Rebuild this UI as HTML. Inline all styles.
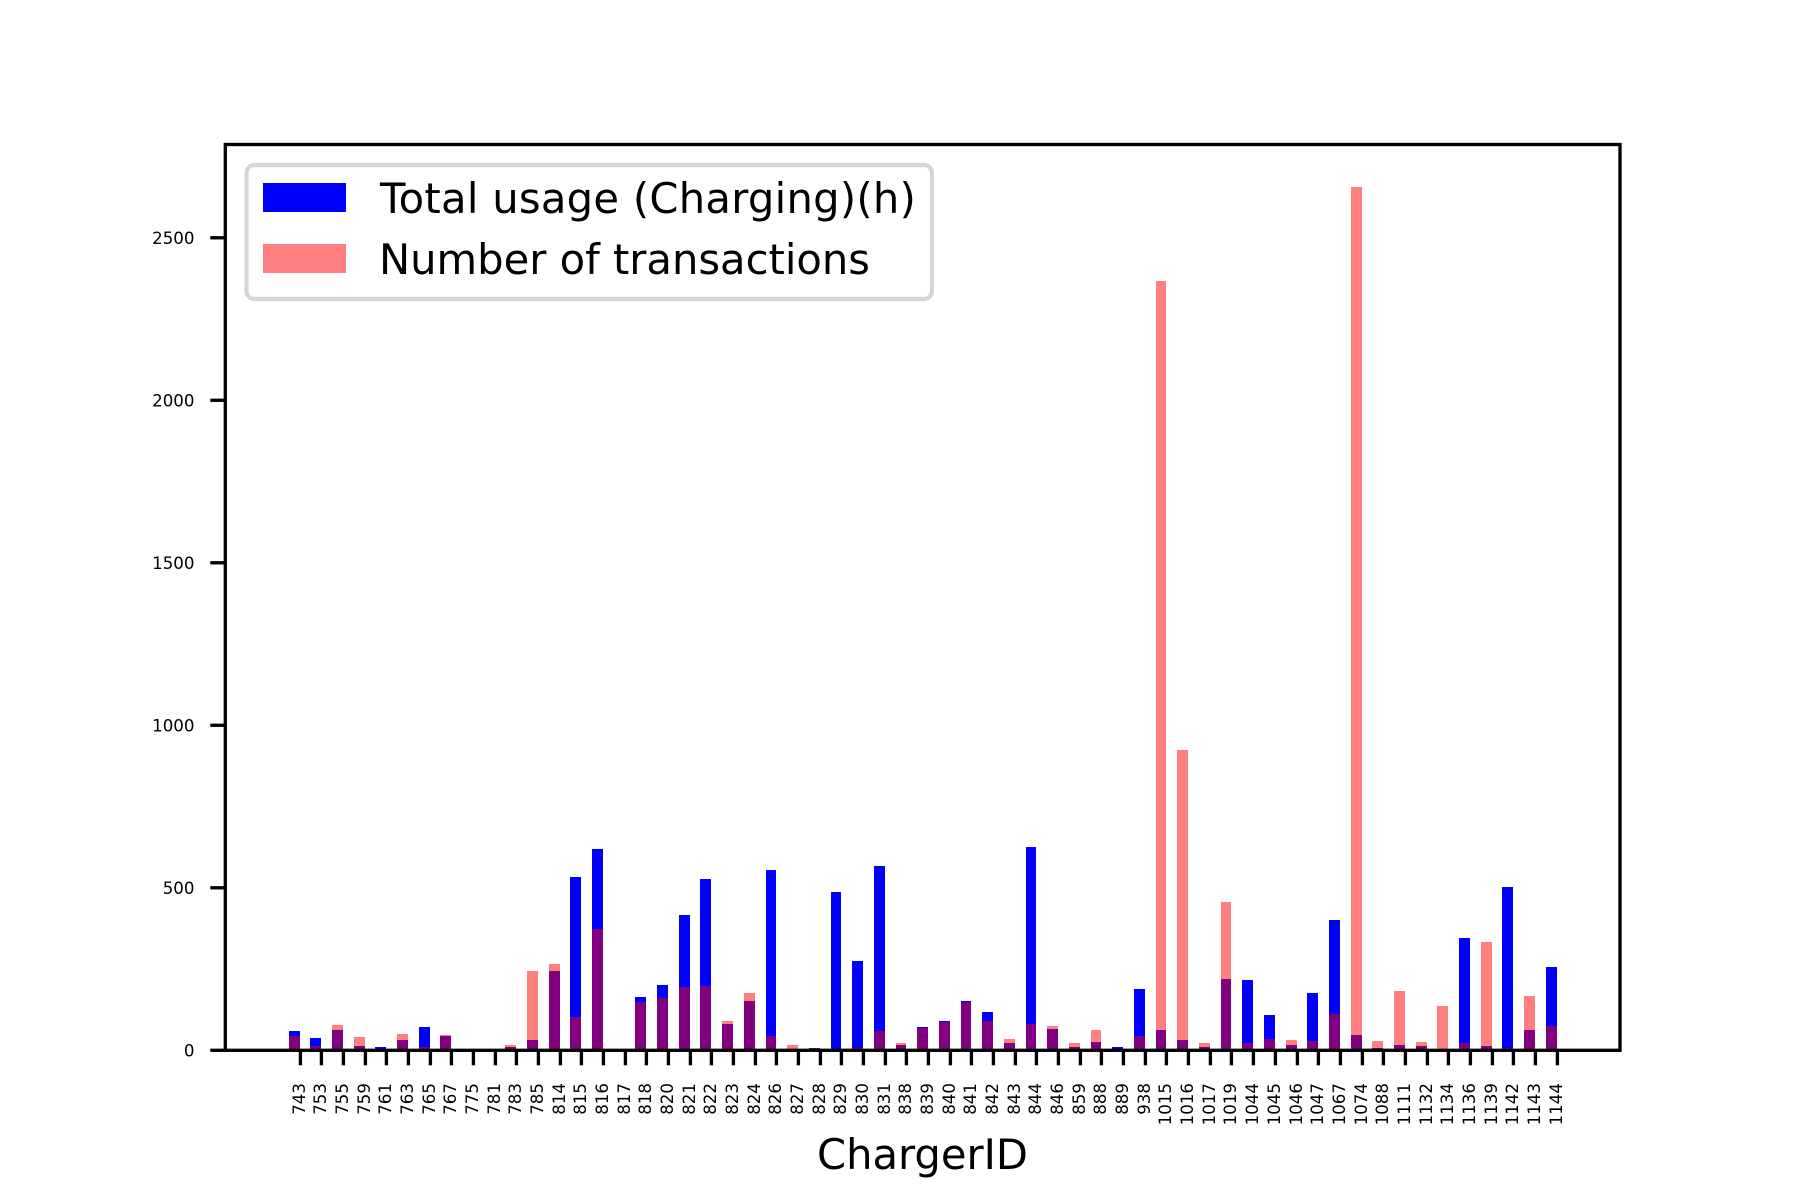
<!DOCTYPE html>
<html lang="en">
<head>
<meta charset="utf-8">
<title>Charger usage and transactions</title>
<style>
html,body{margin:0;padding:0;background:#fff;}
body{width:1800px;height:1200px;overflow:hidden;}
svg{display:block;font-family:"DejaVu Sans","Liberation Sans",sans-serif;}
</style>
</head>
<body>
<svg id="chart" xmlns="http://www.w3.org/2000/svg" width="1800" height="1200" viewBox="0 0 1800 1200"></svg>
<script>
const categories = [743,753,755,759,761,763,765,767,775,781,783,785,814,815,816,817,818,820,821,822,823,824,826,827,828,829,830,831,838,839,840,841,842,843,844,846,859,888,889,938,1015,1016,1017,1019,1044,1045,1046,1047,1067,1074,1088,1111,1132,1134,1136,1139,1142,1143,1144];
const usageHours = [58,37,62,12,9,31,71,43,0,0,9,31,243,533,619,0,163,200,416,527,80,151,554,1,6,487,274,567,15,71,89,151,117,22,625,65,9,25,9,188,62,31,9,219,216,108,15,176,400,46,6,15,12,1,345,12,502,62,256];
const transactions = [43,12,77,40,1,49,9,46,0,0,15,243,265,102,373,0,148,160,194,197,89,176,43,15,6,1,6,58,22,68,86,148,89,34,80,74,22,62,1,43,2368,924,22,456,22,34,31,28,111,2657,28,182,25,136,22,333,6,166,74];
const yTickValues = [0,500,1000,1500,2000,2500];
const seriesLabels = ["Total usage (Charging)(h)","Number of transactions"];
const xAxisTitle = "ChargerID";

const NS = "http://www.w3.org/2000/svg";
const svg = document.getElementById("chart");
const plot = {left:225.3, right:1620, top:144.5, bottom:1050.3};
const barWidth = 0.5;
const xDomain = [-3.175, 61.175];
const yDomain = [0, 2787];

function xScale(v){
  return plot.left + (v - xDomain[0]) / (xDomain[1] - xDomain[0]) * (plot.right - plot.left);
}
function yScale(v){
  return plot.bottom - (v - yDomain[0]) / (yDomain[1] - yDomain[0]) * (plot.bottom - plot.top);
}
function make(tag, attrs, parent){
  const el = document.createElementNS(NS, tag);
  for (const k in attrs) el.setAttribute(k, attrs[k]);
  (parent || svg).appendChild(el);
  return el;
}
function drawBar(i, value, fill, opacity, parent){
  const x0 = Math.round(xScale(i - barWidth / 2));
  const x1 = Math.round(xScale(i + barWidth / 2));
  const y0 = Math.round(yScale(value));
  const y1 = Math.round(yScale(0));
  return make("rect", {x:x0, y:y0, width:x1 - x0, height:Math.max(0, y1 - y0), fill:fill, "fill-opacity":opacity, "shape-rendering":"crispEdges"}, parent);
}

/* background */
const plotBg = make("rect", {x:plot.left, y:plot.top, width:plot.right - plot.left, height:plot.bottom - plot.top, fill:"#fff"});



/* series */
const usageGroup = make("g", {});


usageHours.forEach(function(v, i){
  const bar = drawBar(i, v, "#0000ff", 1, usageGroup);
  
  
});
const txGroup = make("g", {});


transactions.forEach(function(v, i){
  const bar = drawBar(i, v, "#ff0000", 0.5, txGroup);
  
  
});

/* x axis */
const xAxis = make("g", {});


categories.forEach(function(c, i){
  const tx = xScale(i + barWidth / 2);
  const px = Math.round(tx) + 0.4;
  const tick = make("line", {x1:px, x2:px, y1:plot.bottom, y2:plot.bottom + 15, stroke:"#000", "stroke-width":3.33}, xAxis);
  
  
  const label = make("text", {transform:"translate(" + (px + 4.8) + ",1083) rotate(-90)", "text-anchor":"end", "font-size":"16.67px", fill:"#000"}, xAxis);
  label.textContent = String(c);
  
  
});

/* y axis */
const yAxis = make("g", {});


yTickValues.forEach(function(v){
  const ty = yScale(v);
  const tick = make("line", {x1:plot.left - 15, x2:plot.left, y1:ty, y2:ty, stroke:"#000", "stroke-width":3.33}, yAxis);
  
  
  const label = make("text", {x:194.5, y:ty + 6, "text-anchor":"end", "font-size":"16.67px", fill:"#000"}, yAxis);
  label.textContent = String(v);
  
  
});

/* spines */
const frame = make("rect", {x:plot.left, y:plot.top, width:plot.right - plot.left, height:plot.bottom - plot.top, fill:"none", stroke:"#000", "stroke-width":3.33, "stroke-linejoin":"miter"});



/* x axis title */
const xTitle = make("text", {x:922.5, y:1169, "text-anchor":"middle", "font-size":"41.67px", fill:"#000"});
xTitle.textContent = xAxisTitle;



/* legend */
const legend = make("g", {});


const legendBox = make("rect", {x:246.5, y:165, width:685.5, height:134, rx:8, ry:8, fill:"#fff", "fill-opacity":0.8, stroke:"#d6d6d6", "stroke-width":4.17}, legend);


const legendSwatch1 = make("rect", {x:263, y:183, width:83, height:29, fill:"#0000ff", "shape-rendering":"crispEdges"}, legend);


const legendText1 = make("text", {x:380, y:213, "font-size":"41.67px", "letter-spacing":"0.28px", fill:"#000"}, legend);
legendText1.textContent = seriesLabels[0];


const legendSwatch2 = make("rect", {x:263, y:244, width:83, height:29, fill:"#ff8080", "shape-rendering":"crispEdges"}, legend);


const legendText2 = make("text", {x:379, y:274, "font-size":"41.67px", fill:"#000"}, legend);
legendText2.textContent = seriesLabels[1];


</script>
</body>
</html>
